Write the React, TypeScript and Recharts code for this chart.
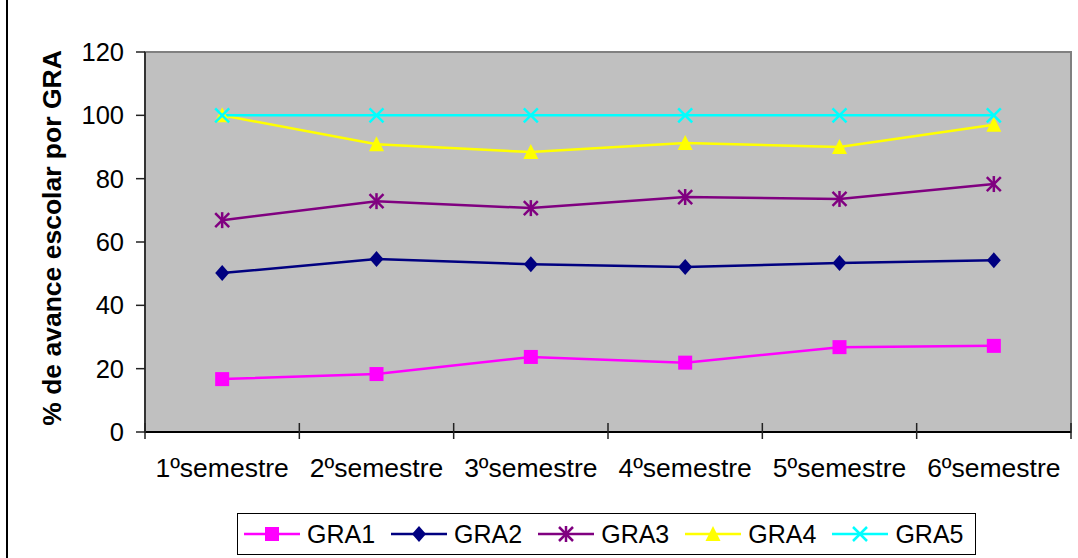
import React from "react";
import { LineChart, Line, XAxis, YAxis, ReferenceArea, Legend } from "recharts";

const categories = ["1ºsemestre", "2ºsemestre", "3ºsemestre", "4ºsemestre", "5ºsemestre", "6ºsemestre"];
const gra1 = [16.7, 18.3, 23.7, 21.9, 26.8, 27.2];
const gra2 = [50.2, 54.6, 53.0, 52.1, 53.4, 54.2];
const gra3 = [66.9, 72.9, 70.7, 74.2, 73.6, 78.3];
const gra4 = [100, 90.9, 88.4, 91.3, 90.0, 97.0];
const gra5 = [100, 100, 100, 100, 100, 100];
const yTicks = [0, 20, 40, 60, 80, 100, 120];
const seriesNames = ["GRA1", "GRA2", "GRA3", "GRA4", "GRA5"];
const seriesColors = ["#FF00FF", "#000080", "#800080", "#FFFF00", "#00FFFF"];
const seriesMarkers = ["square", "diamond", "asterisk", "triangle", "x"];
const seriesValues = [gra1, gra2, gra3, gra4, gra5];
const yTitle = "% de avance escolar por GRA";

const data = categories.map((c, i) => {
  const row: any = { pos: i + 0.5, name: c };
  seriesNames.forEach((n, k) => {
    row[n] = seriesValues[k][i];
  });
  return row;
});

const xTicks: number[] = [];
categories.forEach((_, i) => {
  xTicks.push(i, i + 0.5);
});
xTicks.push(categories.length);

const FONT = "'Liberation Sans', Arial, Helvetica, sans-serif";

function Marker({ type, cx, cy, color }: { type: string; cx: number; cy: number; color: string }) {
  const s = 7;
  if (type === "square") {
    return <rect x={cx - s} y={cy - s} width={2 * s} height={2 * s} fill={color} />;
  }
  if (type === "diamond") {
    return (
      <polygon
        points={`${cx},${cy - s - 1} ${cx + s},${cy} ${cx},${cy + s + 1} ${cx - s},${cy}`}
        fill={color}
      />
    );
  }
  if (type === "triangle") {
    return (
      <polygon
        points={`${cx},${cy - 8} ${cx + 7.5},${cy + 7} ${cx - 7.5},${cy + 7}`}
        fill={color}
      />
    );
  }
  if (type === "asterisk") {
    return (
      <g stroke={color} strokeWidth={2.5}>
        <line x1={cx - s} y1={cy - s} x2={cx + s} y2={cy + s} />
        <line x1={cx - s} y1={cy + s} x2={cx + s} y2={cy - s} />
        <line x1={cx} y1={cy - s - 1} x2={cx} y2={cy + s + 1} />
      </g>
    );
  }
  return (
    <g stroke={color} strokeWidth={2.5}>
      <line x1={cx - s} y1={cy - s} x2={cx + s} y2={cy + s} />
      <line x1={cx - s} y1={cy + s} x2={cx + s} y2={cy - s} />
    </g>
  );
}

const XTick = (props: any) => {
  const { x, y, payload } = props;
  const v = payload.value;
  if (Number.isInteger(v)) {
    return <line x1={x} x2={x} y1={y - 9} y2={y + 7} stroke="#222" strokeWidth={1.5} />;
  }
  const label = categories[Math.floor(v)];
  return (
    <text x={x} y={y + 45} textAnchor="middle" fontSize={26.5} fontFamily={FONT} fill="#000">
      {label}
    </text>
  );
};

const YTitle = (props: any) => {
  const vb = props.viewBox || { x: 0, y: 52, width: 145, height: 380 };
  const cx = vb.x + 61;
  const cy = vb.y + vb.height / 2 - 4;
  return (
    <text
      x={cx}
      y={cy}
      transform={`rotate(-90, ${cx}, ${cy})`}
      textAnchor="middle"
      fontSize={26.5}
      fontWeight="bold"
      fontFamily={FONT}
      fill="#000"
    >
      {yTitle}
    </text>
  );
};

const LegendContent = () => (
  <div
    style={{
      boxSizing: "border-box",
      width: 739,
      height: 42,
      border: "1px solid #000",
      background: "#fff",
      display: "flex",
      alignItems: "center",
      paddingLeft: 6,
      fontFamily: FONT,
      fontSize: 25,
      color: "#000",
    }}
  >
    {seriesNames.map((n, k) => (
      <div key={n} style={{ display: "flex", alignItems: "center", marginRight: 16 }}>
        <svg width={56} height={20} style={{ display: "block" }}>
          <line x1={0} x2={56} y1={10} y2={10} stroke={seriesColors[k]} strokeWidth={2.5} />
          <Marker type={seriesMarkers[k]} cx={28} cy={10} color={seriesColors[k]} />
        </svg>
        <span style={{ marginLeft: 7, lineHeight: "28px" }}>{n}</span>
      </div>
    ))}
  </div>
);

export default function App() {
  return (
    <div style={{ position: "absolute", left: 0, top: 0, width: 1078, height: 558, background: "#fff" }}>
      <div style={{ position: "absolute", left: 6, top: 0, width: 2, height: 558, background: "#000" }} />
      <LineChart
        width={1078}
        height={558}
        data={data}
        margin={{ top: 52, right: 7, bottom: 3, left: 0 }}
        style={{ fontFamily: FONT }}
      >
        <ReferenceArea
          x1={0}
          x2={6}
          y1={0}
          y2={120}
          fill="#C0C0C0"
          fillOpacity={1}
          stroke="#808080"
          strokeWidth={2}
        />
        <XAxis
          dataKey="pos"
          type="number"
          domain={[0, categories.length]}
          ticks={xTicks}
          interval={0}
          tick={<XTick />}
          tickLine={false}
          tickSize={0}
          tickMargin={0}
          height={81}
          axisLine={{ stroke: "#000", strokeWidth: 2 }}
        />
        <YAxis
          type="number"
          domain={[0, 120]}
          ticks={yTicks}
          interval={0}
          width={145}
          tickSize={9}
          tickMargin={12}
          tick={{ fontSize: 25.5, fill: "#000", fontFamily: FONT }}
          tickLine={{ stroke: "#222", strokeWidth: 1.5 }}
          axisLine={{ stroke: "#333", strokeWidth: 2 }}
          label={{ content: (p: any) => <YTitle {...p} /> }}
        />
        {seriesNames.map((n, k) => (
          <Line
            key={n}
            dataKey={n}
            stroke={seriesColors[k]}
            strokeWidth={2.5}
            isAnimationActive={false}
            dot={(p: any) => (
              <Marker key={`${n}-${p.index}`} type={seriesMarkers[k]} cx={p.cx} cy={p.cy} color={seriesColors[k]} />
            )}
            activeDot={false}
          />
        ))}
        <Legend
          verticalAlign="bottom"
          content={<LegendContent />}
          wrapperStyle={{ left: 237, top: 513, bottom: "auto", width: 739, height: 42 }}
        />
      </LineChart>
    </div>
  );
}
